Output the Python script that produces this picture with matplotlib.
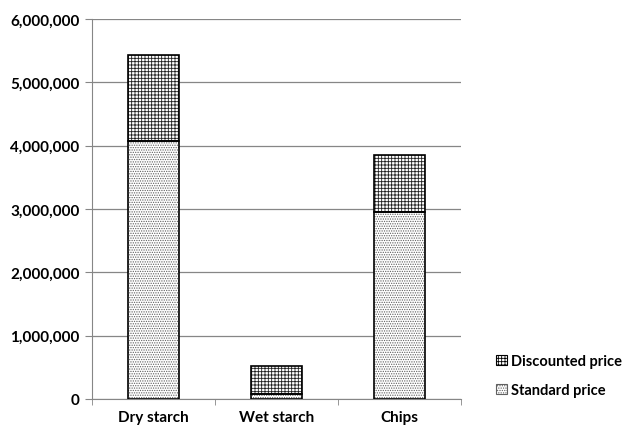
import numpy as np
import matplotlib.pyplot as plt
from matplotlib.patches import Patch

plt.rcParams['font.family'] = ['Lato', 'DejaVu Sans']
plt.rcParams['font.weight'] = 'bold'
plt.rcParams['hatch.linewidth'] = 0.6

# data
categories = ['Dry starch', 'Wet starch', 'Chips']
standard = [4080000, 80000, 2960000]
discounted = [1350000, 440000, 890000]

x = np.arange(len(categories))
fs = 11

fig = plt.figure(figsize=(6.23, 4.27), dpi=100)
ax = fig.add_axes([92/623, 27/427, 369/623, 380/427])

# hatch drawn in gray, outline drawn black on top
ax.bar(x, standard, width=0.41, color='white', edgecolor='#606060',
       hatch='.......', linewidth=0, zorder=3)
ax.bar(x, discounted, bottom=standard, width=0.41, color='white',
       edgecolor='#202020', hatch='+++++', linewidth=0, zorder=3)
ax.bar(x, standard, width=0.41, fill=False, edgecolor='black', linewidth=1.2, zorder=4)
ax.bar(x, discounted, bottom=standard, width=0.41, fill=False,
       edgecolor='black', linewidth=1.2, zorder=4)

ax.set_xlim(-0.5, 2.5)
ax.set_ylim(0, 6000000)
ax.set_yticks(np.arange(0, 6000001, 1000000))
ax.yaxis.set_major_formatter(plt.FuncFormatter(lambda v, p: f'{int(v):,}'))
ax.set_xticks(x)
ax.set_xticklabels(categories)
ax.set_xticks([-0.5, 0.5, 1.5, 2.5], minor=True)
ax.tick_params(axis='x', which='major', length=0, pad=8, labelsize=fs)
ax.tick_params(axis='x', which='minor', length=4, color='#868686')
ax.tick_params(axis='y', length=5, color='#868686', labelsize=fs, pad=4)

ax.grid(axis='y', color='#868686', linewidth=0.9, zorder=0)
for s in ['top', 'right']:
    ax.spines[s].set_visible(False)
for s in ['left', 'bottom']:
    ax.spines[s].set_color('#868686')

handles = [Patch(facecolor='white', edgecolor='black', hatch='+++++', linewidth=0.8),
           Patch(facecolor='white', edgecolor='#606060', hatch='.......', linewidth=0.8)]
fig.legend(handles, ['Discounted price', 'Standard price'], loc='lower left',
           bbox_to_anchor=(489/623, 22/427), frameon=False, fontsize=10.5,
           handlelength=0.7, handleheight=0.7, handletextpad=0.3, labelspacing=1.0,
           borderpad=0)

fig.savefig('out.png', dpi=100)
